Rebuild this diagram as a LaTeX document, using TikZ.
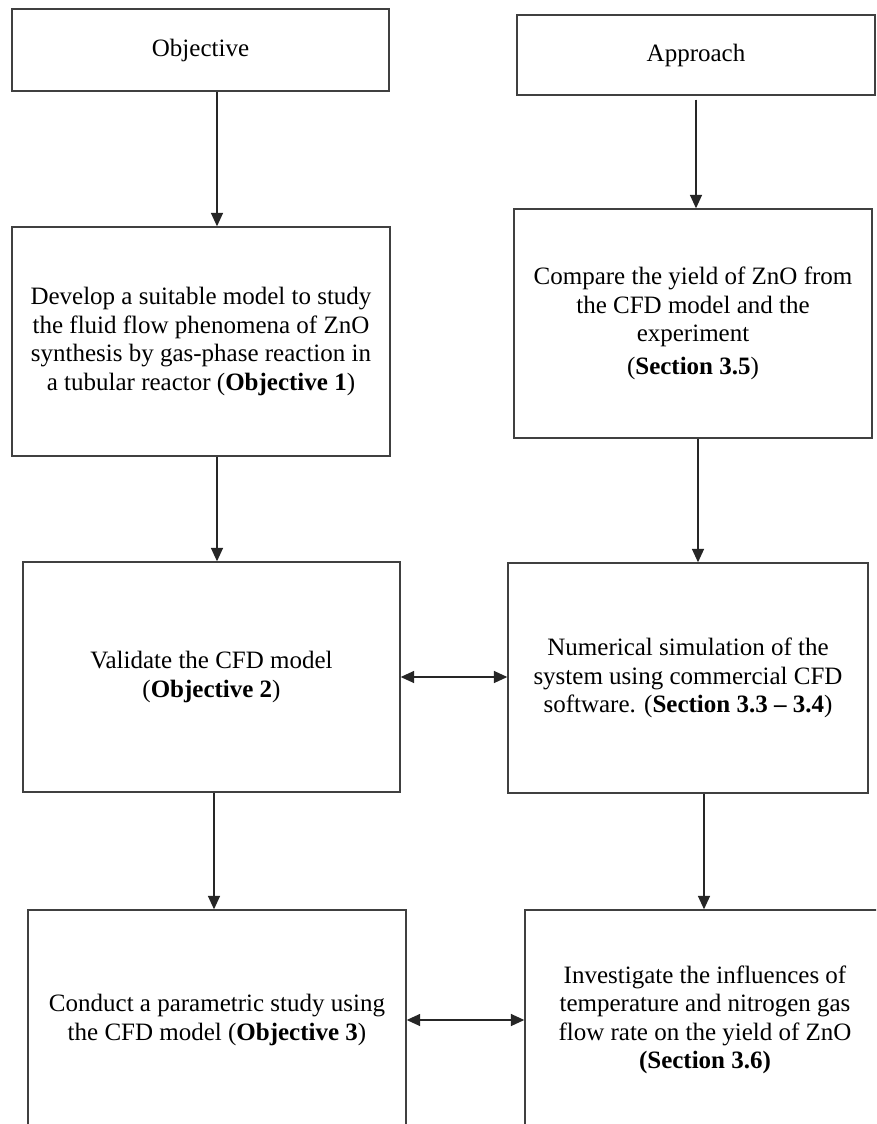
\documentclass[tikz,border=0pt]{standalone}
\usepackage{fontspec}
\setmainfont{Liberation Serif}
\usetikzlibrary{arrows.meta}
\tikzset{
  box/.style={draw=black!75,line width=1.1pt,align=center,inner sep=0pt,
    font=\fontsize{18.75}{21.4}\selectfont},
  link/.style={draw=black!85,line width=0.9pt,-{Triangle[length=10pt,width=9pt]}},
  both/.style={link,{Triangle[length=10pt,width=9pt]}-{Triangle[length=10pt,width=9pt]}}
}
\begin{document}
\begin{tikzpicture}[x=0.75pt,y=-0.75pt]
  \useasboundingbox (0,0) rectangle (876,1124);
  \clip (0,0) rectangle (876,1124);
  \fill[white] (0,0) rectangle (876,1124);
  % left column
  \node[box,minimum width=282.75pt,minimum height=61.5pt] (obj) at (200.5,50) {Objective};
  \node[box,minimum width=283.5pt,minimum height=171.75pt] (dev) at (201,341.5)
    {Develop a suitable model to study\\the fluid flow phenomena of ZnO\\synthesis by gas-phase reaction in\\a tubular reactor (\textbf{Objective 1})};
  \node[box,minimum width=282.75pt,minimum height=172.5pt] (val) at (211.5,677)
    {Validate the CFD model\\(\textbf{Objective 2})};
  \node[box,minimum width=283.5pt,minimum height=165pt] (con) at (217,1020)
    {Conduct a parametric study using\\the CFD model (\textbf{Objective 3})};
  % right column
  \node[box,minimum width=268.5pt,minimum height=60pt] (app) at (696,55) {Approach};
  \node[box,minimum width=268.5pt,minimum height=171.75pt] (cmp) at (693,323.5)
    {Compare the yield of ZnO from\\the CFD model and the\\experiment\\[3pt](\textbf{Section 3.5})};
  \node[box,minimum width=270pt,minimum height=172.5pt] (num) at (688,678)
    {Numerical simulation of the\\system using commercial CFD\\software. (\textbf{Section 3.3 – 3.4})};
  \node[box,minimum width=270pt,minimum height=165pt] (inv) at (705,1020)
    {Investigate the influences of\\temperature and nitrogen gas\\flow rate on the yield of ZnO\\\textbf{(Section 3.6)}};
  % arrows
  \coordinate (a1) at (217,0);
  \coordinate (a2) at (696,0);
  \coordinate (a3) at (698,0);
  \coordinate (a4) at (214,0);
  \coordinate (a5) at (704,0);
  \draw[link] (obj.south -| a1) -- (dev.north -| a1);
  \draw[link] ([yshift=-3pt]app.south -| a2) -- (cmp.north -| a2);
  \draw[link] (dev.south -| a1) -- (val.north -| a1);
  \draw[link] (cmp.south -| a3) -- (num.north -| a3);
  \draw[link] (val.south -| a4) -- (con.north -| a4);
  \draw[link] (num.south -| a5) -- (inv.north -| a5);
  \draw[both] (val.east) -- (val.east -| num.west);
  \draw[both] (con.east) -- (con.east -| inv.west);
\end{tikzpicture}
\end{document}
